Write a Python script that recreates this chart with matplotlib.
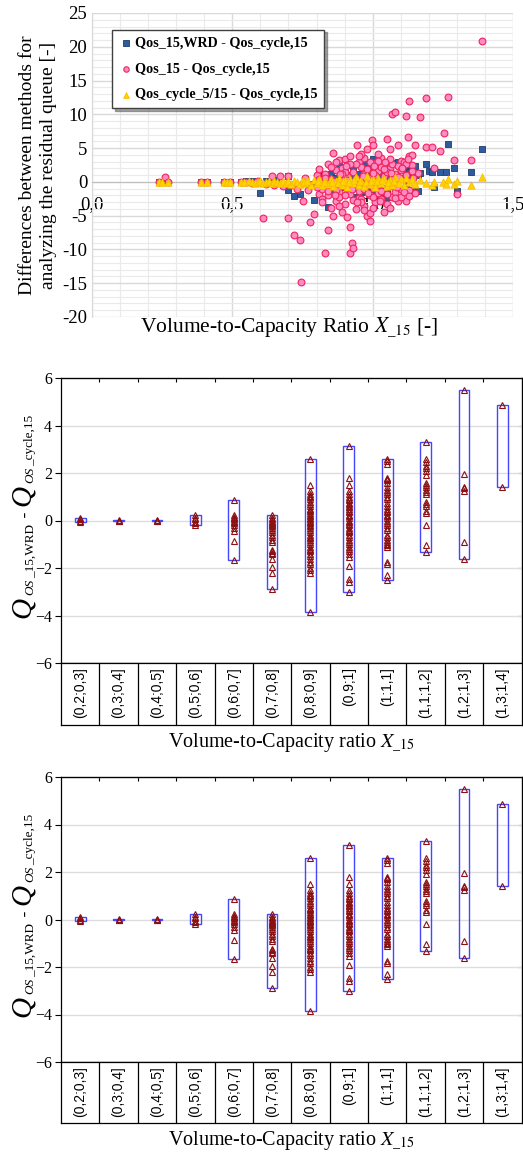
import matplotlib
matplotlib.use("Agg")
import matplotlib.pyplot as plt
from matplotlib.ticker import MultipleLocator, FuncFormatter
import numpy as np

plt.rcParams['font.family'] = ['Liberation Serif', 'DejaVu Serif']
plt.rcParams['mathtext.fontset'] = 'stix'

# ---- top chart data: (V/C ratio, difference) ----
wrd_x = [0.24, 0.26, 0.39, 0.41, 0.47, 0.49, 0.53, 0.55, 0.57, 0.60, 0.62, 0.64, 0.66, 0.68, 0.70,
         0.70, 0.72, 0.74, 0.76, 0.78, 0.79, 0.81, 0.82, 0.84, 0.85, 0.86, 0.87, 0.88, 0.89, 0.90,
         0.91, 0.92, 0.93, 0.94, 0.95, 0.96, 0.97, 0.98, 0.99, 1.00, 1.01, 1.02, 1.03, 1.04, 1.05,
         1.06, 1.07, 1.08, 1.09, 1.10, 1.11, 1.12, 1.13, 1.14, 1.15, 1.16, 1.17, 1.19, 1.20, 1.21,
         1.22, 1.24, 1.26, 1.27, 1.29, 1.30, 1.35, 1.39,
         0.88, 0.90, 0.92, 0.94, 0.96, 0.98, 1.00, 1.02, 1.04, 1.06, 1.08, 1.10, 1.12, 1.14, 1.16,
         0.89, 0.93, 0.97, 1.01, 1.05, 1.09, 1.13]
wrd_y = [0.0, 0.0, 0.0, 0.0, 0.0, 0.0, 0.0, 0.2, 0.1, -1.6, 0.1, -0.2, 0.3, -0.4, 0.9,
         -1.2, -2.1, -1.8, 0.5, -0.3, -2.7, 1.6, 0.8, -3.75, 1.2, -1.0, 0.6, 2.4, -0.8, 1.3,
         -1.5, 0.4, 2.0, -2.3, 1.1, -0.6, 0.7, -1.3, 2.1, 3.4, -2.0, 0.9, -1.6, 1.5, -2.2,
         0.5, 1.2, 2.8, -0.9, 1.8, 0.6, -0.4, 2.2, -1.2, 2.4, 1.0, 1.3, 2.6, 1.6, 1.5,
         -0.8, 1.4, 1.5, 5.6, 2.0, -1.4, 1.5, 4.9,
         0.3, -0.4, 1.0, 0.6, -1.5, 0.8, -0.5, 1.9, -0.9, 2.6, -0.3, 2.5, 1.6, 0.9, -1.3,
         1.9, -0.9, 2.6, 1.1, -1.2, 2.9, 1.5]

q15_x = [0.24, 0.26, 0.27, 0.39, 0.41, 0.47, 0.49, 0.53, 0.55, 0.57, 0.59, 0.61, 0.62, 0.64, 0.65,
         0.67, 0.68, 0.70, 0.70, 0.71, 0.72, 0.73, 0.74, 0.745, 0.75, 0.76, 0.77, 0.776, 0.79, 0.80,
         0.81, 0.82, 0.83, 0.84, 0.84, 0.85, 0.86, 0.86, 0.87, 0.87, 0.88, 0.88, 0.89, 0.89, 0.90,
         0.90, 0.91, 0.91, 0.918, 0.92, 0.925, 0.93, 0.93, 0.94, 0.945, 0.95, 0.95, 0.96, 0.96, 0.97,
         0.97, 0.98, 0.98, 0.99, 0.99, 0.996, 1.00, 1.00, 1.01, 1.01, 1.02, 1.02, 1.03, 1.03, 1.04,
         1.04, 1.05, 1.05, 1.06, 1.06, 1.07, 1.07, 1.08, 1.08, 1.09, 1.09, 1.10, 1.10, 1.11, 1.12,
         1.12, 1.126, 1.13, 1.13, 1.14, 1.15, 1.15, 1.16, 1.17, 1.19, 1.19, 1.21, 1.22, 1.24, 1.255,
         1.27, 1.29, 1.30, 1.35, 1.39,
         0.85, 0.86, 0.87, 0.88, 0.89, 0.90, 0.91, 0.92, 0.93, 0.94, 0.95, 0.96, 0.97, 0.98, 0.99,
         1.00, 1.01, 1.02, 1.03, 1.04, 1.05, 1.06, 1.07, 1.08, 1.09, 1.10, 1.11, 1.12, 1.13, 1.14,
         0.83, 0.82, 0.81, 0.84, 0.90, 0.95, 1.00, 0.92, 0.97, 1.02, 0.88, 1.06, 0.96, 0.99,
         0.80, 0.81, 0.82, 0.83, 0.84, 0.85, 0.86, 0.87, 0.88, 0.89, 0.90, 0.91, 0.92, 0.93, 0.94,
         0.95, 0.96, 0.97, 0.98, 0.99, 1.00, 1.01, 1.02, 1.03, 1.04, 1.05, 1.06, 1.07, 1.08, 1.09,
         1.10, 1.11, 1.12, 1.13, 1.14, 0.865, 0.885, 0.905, 0.925, 0.945, 0.965, 0.985, 1.005, 1.025,
         1.045, 1.065, 1.085, 1.105, 1.125, 1.145]
q15_y = [0.0, 0.7, 0.0, 0.0, 0.0, 0.0, 0.0, 0.0, 0.0, -0.2, 0.2, -5.3, -0.3, 0.8, -0.4,
         0.9, -0.6, 0.8, -5.3, -0.5, -7.8, -1.0, -8.6, -14.8, -2.8, 0.6, -1.2, -5.9, -4.8, 1.0,
         -1.8, -2.5, -10.5, -7.1, 2.7, -3.8, 4.3, -5.0, 1.8, -2.9, 3.3, -1.5, -4.5, 0.9, 3.4,
         -3.2, -5.2, 2.5, -6.7, -10.5, -9.1, -9.8, 1.5, -4.0, 5.4, -2.4, 3.0, -1.2, 2.2, -3.5,
         1.1, 4.8, -5.1, -5.8, -2.0, 6.2, 5.5, -0.9, 2.8, -3.0, 1.6, -1.7, 3.6, -2.6, -4.5,
         0.9, 6.3, -3.3, 4.8, 2.0, 10.1, -2.2, 10.4, 1.2, 5.4, -2.8, 3.1, -1.0, 0.4, 9.8,
         -2.9, 6.7, 12.0, 3.8, 2.5, 5.4, -1.6, 1.3, 9.6, 12.4, 5.2, 5.1, 2.0, 4.6, 7.3,
         12.6, 3.3, -1.8, 3.2, 20.9,
         0.5, -0.7, -1.2, 0.2, 2.0, -0.5, 0.8, -1.8, -0.3, 2.6, 0.3, -2.6, 3.5, 1.9, 0.6,
         -2.3, 1.0, -0.4, 2.2, -1.1, 1.5, -0.6, 2.6, -1.5, 0.7, -2.3, 2.9, 1.0, -1.2, 4.0,
         1.2, -1.0, 0.4, -2.0, 1.4, -1.4, 1.3, 3.9, -4.1, 4.2, -2.3, -3.8, 4.1, -4.6,
         -0.8, 1.9, -3.0, 0.6, -1.3, 2.2, 0.1, 3.0, -3.6, 1.2, -2.0, 0.3, 2.7, -2.7, 0.6,
         3.8, -3.0, -1.0, 0.5, 2.9, -3.8, 0.2, 3.1, -1.4, 1.9, -1.8, 3.4, 0.8, -2.4, 2.3,
         1.7, -1.5, 2.6, -2.1, 1.6, -1.9, 1.1, 2.3, -1.1, -3.0, 0.9, -1.6, 2.4, -2.9,
         3.0, 1.3, -0.7, 2.0, 3.4, 0.6]

cyc_x = [0.24, 0.25, 0.27, 0.39, 0.41, 0.47, 0.48, 0.49, 0.53, 0.54, 0.56, 0.57, 0.58, 0.59, 0.60,
         0.61, 0.62, 0.63, 0.64, 0.65, 0.66, 0.67, 0.68, 0.69, 0.70, 0.71, 0.72, 0.73, 0.74, 0.75,
         0.76, 0.77, 0.78, 0.79, 0.80, 0.81, 0.82, 0.83, 0.84, 0.85, 0.86, 0.87, 0.88, 0.89, 0.90,
         0.91, 0.92, 0.93, 0.94, 0.95, 0.96, 0.97, 0.98, 0.99, 1.00, 1.01, 1.02, 1.03, 1.04, 1.05,
         1.06, 1.07, 1.08, 1.09, 1.10, 1.11, 1.12, 1.13, 1.14, 1.15, 1.17, 1.19, 1.21, 1.22, 1.25,
         1.26, 1.27, 1.29, 1.30, 1.35, 1.39,
         0.855, 0.875, 0.895, 0.915, 0.935, 0.955, 0.975, 0.995, 1.015, 1.035, 1.055, 1.075, 1.095,
         0.755, 0.765, 0.805, 0.825]
cyc_y = [0.0, 0.0, 0.0, 0.0, 0.0, 0.0, 0.0, 0.0, 0.0, 0.0, 0.1, 0.0, -0.1, 0.0, 0.1,
         -0.1, 0.0, 0.2, -0.2, 0.1, 0.0, -0.2, 0.2, -0.1, 0.1, -0.3, 0.2, 0.0, -0.3, 0.3,
         -0.2, 0.1, -0.4, 0.3, -0.1, 0.4, -0.5, 0.2, -0.3, 0.5, -0.6, 0.1, 0.6, -0.4, 0.3,
         -0.7, 0.5, -0.2, 0.7, -0.5, 0.2, -0.6, 0.8, -0.3, 0.4, -0.7, 0.6, -0.2, 0.5, -0.6,
         0.3, -0.4, 0.7, -0.2, 0.4, -0.5, 0.6, 0.0, 0.5, -0.3, 0.3, -0.2, -0.4, 0.0, 0.0,
         -0.3, 0.4, -0.3, 0.1, -0.5, 0.7,
         0.0, -0.2, 0.2, 0.0, 0.3, 0.1, 0.0, 0.2, 0.1, 0.3, 0.0, 0.2, -0.1,
         0.0, 0.1, 0.2, 0.0]

legend_labels = ["Qos_15,WRD - Qos_cycle,15", "Qos_15 - Qos_cycle,15", "Qos_cycle_5/15 - Qos_cycle,15"]

# ---- box panel data (difference per V/C class) ----
classes = ["(0,2;0,3]", "(0,3;0,4]", "(0,4;0,5]", "(0,5;0,6]", "(0,6;0,7]", "(0,7;0,8]",
           "(0,8;0,9]", "(0,9;1]", "(1;1,1]", "(1,1;1,2]", "(1,2;1,3]", "(1,3;1,4]"]
class_values = [
    [0.1, 0.05, 0.0, -0.05],
    [0.03, 0.0, -0.03],
    [0.02, 0.0, -0.03],
    [0.22, 0.12, 0.05, -0.05, -0.12, -0.2],
    [0.85, 0.22, 0.15, 0.1, 0.05, 0.0, -0.05, -0.1, -0.2, -0.3, -0.45, -0.85, -1.68],
    [0.22, 0.12, 0.05, 0.0, -0.05, -0.1, -0.15, -0.2, -0.25, -0.3, -0.4, -0.5, -0.6, -0.7, -0.8,
     -0.9, -1.25, -1.3, -1.35, -1.4, -1.6, -1.95, -2.2, -2.88],
    [2.6, 1.5, 1.25, 1.1, 1.05, 1.0, 0.9, 0.8, 0.7, 0.6, 0.5, 0.45, 0.4, 0.3, 0.25, 0.2, 0.1,
     0.05, 0.0, -0.05, -0.1, -0.2, -0.25, -0.3, -0.4, -0.5, -0.6, -0.7, -0.75, -0.8, -0.9, -1.0,
     -1.1, -1.2, -1.25, -1.3, -1.4, -1.5, -1.6, -1.75, -1.85, -2.0, -2.1, -2.2, -3.85],
    [3.15, 1.8, 1.5, 1.25, 1.1, 1.0, 0.9, 0.85, 0.75, 0.7, 0.6, 0.55, 0.5, 0.4, 0.35, 0.25, 0.2,
     0.1, 0.0, -0.05, -0.15, -0.2, -0.3, -0.4, -0.45, -0.5, -0.6, -0.7, -0.8, -0.9, -1.0, -1.1,
     -1.2, -1.3, -1.4, -1.55, -1.9, -2.45, -2.6, -3.02],
    [2.6, 2.5, 2.4, 1.8, 1.75, 1.7, 1.6, 1.4, 1.3, 1.2, 1.1, 1.0, 0.9, 0.75, 0.6, 0.5, 0.4, 0.35,
     0.25, 0.2, 0.1, 0.0, -0.1, -0.2, -0.3, -0.4, -0.6, -0.7, -0.8, -0.9, -1.0, -1.05, -1.1,
     -1.75, -1.85, -2.3, -2.5],
    [3.3, 2.6, 2.45, 2.3, 2.2, 2.1, 1.9, 1.6, 1.5, 1.4, 1.3, 1.2, 1.1, 0.8, 0.7, 0.6, 0.4, 0.3,
     -0.2, -1.05, -1.33],
    [5.5, 1.95, 1.42, 1.35, 1.25, -0.9, -1.6],
    [4.85, 1.42],
]

W, H = 523, 1156
fig = plt.figure(figsize=(W / 100, H / 100), dpi=100)
renderer = fig.canvas.get_renderer()


def rect(left, top, right, bottom):
    return [left / W, 1 - bottom / H, (right - left) / W, (bottom - top) / H]


# ================= top scatter =================
ax = fig.add_axes(rect(92, 13, 513, 317))
ax.set_xlim(0, 1.5)
ax.set_ylim(-20, 25)
ax.xaxis.set_major_locator(MultipleLocator(0.5))
ax.xaxis.set_minor_locator(MultipleLocator(0.1))
ax.yaxis.set_major_locator(MultipleLocator(5))
ax.yaxis.set_minor_locator(MultipleLocator(1))
ax.grid(which='minor', color='#EAEAEA', lw=0.8)
ax.grid(which='major', color='#D9D9D9', lw=1.0)
ax.set_axisbelow(True)
for s in ['top', 'right']:
    ax.spines[s].set_visible(False)
ax.spines['bottom'].set_position(('data', 0))
ax.spines['bottom'].set_color('#BFBFBF')
ax.spines['left'].set_color('#D9D9D9')
ax.tick_params(which='both', length=0, labelsize=13.5)
ax.tick_params(axis='x', pad=10)
ax.xaxis.set_major_formatter(FuncFormatter(lambda v, p: f"{v:.1f}".replace('.', ',')))
ax.yaxis.set_major_formatter(FuncFormatter(lambda v, p: f"{v:.0f}"))

ax.scatter(wrd_x, wrd_y, marker='s', s=22, color='#2E5C9E', edgecolor='#1F3D6B', lw=0.6,
           label=legend_labels[0], zorder=3)
ax.scatter(q15_x, q15_y, marker='o', s=24, color='#FF8AC4', edgecolor='#F0245A', lw=0.8,
           label=legend_labels[1], zorder=4)
ax.scatter(cyc_x, cyc_y, marker='^', s=28, color='#FFD200', edgecolor='#F5B800', lw=0.5,
           label=legend_labels[2], zorder=5)

leg = ax.legend(loc='upper left', bbox_to_anchor=(0.048, 0.945), prop={'weight': 'bold', 'size': 10.2},
                frameon=True, shadow=True, fancybox=False, edgecolor='#404040', handletextpad=0.1,
                handlelength=1.0, markerscale=0.8, borderpad=0.5, labelspacing=0.9,
                borderaxespad=0.0)
leg.get_frame().set_linewidth(1.0)

ax.set_ylabel("Differences between methods for\nanalyzing the residual queue [-]", fontsize=14,
              labelpad=4, linespacing=1.25)
fig.text(289 / W, 1 - 327 / H, r"Volume-to-Capacity Ratio $X_{\_15}$ [-]", fontsize=15.5,
         ha='center', va='center')


# rotated y label built piece by piece so the Q can be larger than its subscripts
def q_label(x_base, y_start):
    pieces = [("Q", 21, 'italic', 0, 2), ("OS", 9.5, 'italic', 3.5, 1), ("_15,WRD", 9.5, 'normal', 3.5, 2),
              (" - ", 13, 'normal', 0, 1),
              ("Q", 21, 'italic', 0, 2), ("OS", 9.5, 'italic', 3.5, 1), ("_cycle,15", 9.5, 'normal', 3.5, 0)]
    y = y_start
    for s, size, style, shift, gap in pieces:
        t = fig.text((x_base + shift) / W, 1 - y / H, s, rotation=90, rotation_mode='anchor',
                     ha='left', va='baseline', fontsize=size, fontstyle=style)
        y -= t.get_window_extent(renderer).height + gap


# ================= box panels =================
def box_panel(top, bottom, table_bottom):
    bx = fig.add_axes(rect(61, top, 521.5, bottom))
    n = len(classes)
    pos = np.arange(n)
    bx.set_xlim(-0.5, n - 0.5)
    bx.set_ylim(-6, 6)
    bx.set_yticks([-6, -4, -2, 0, 2, 4, 6])
    bx.yaxis.grid(True, color='#DDDDDD', lw=1.0)
    bx.set_axisbelow(True)
    bx.set_xticks([])
    bx.tick_params(axis='y', direction='out', length=4, labelsize=11.5, width=0.8, pad=2.5)
    for s in bx.spines.values():
        s.set_linewidth(0.9)
    top_ax = bx.secondary_xaxis('top')
    top_ax.set_xticks(pos[:-1] + 0.5)
    top_ax.tick_params(direction='in', length=3, labeltop=False)
    right_ax = bx.secondary_yaxis('right')
    right_ax.set_yticks([-4, -2, 2, 4])
    right_ax.tick_params(direction='in', length=3, labelright=False)

    for i, vals in enumerate(class_values):
        lo, hi = min(vals), max(vals)
        bx.bar(pos[i], hi - lo, bottom=lo, width=0.28, fill=False, edgecolor='#4646FF', lw=1.0,
               zorder=2)
        bx.plot([pos[i]] * len(vals), vals, linestyle='none', marker='^', ms=4.2, mfc='none',
                mec='#8B1010', mew=0.8, zorder=3)

    q_label(30, top + 240)

    tx = fig.add_axes(rect(61, bottom, 521.5, table_bottom))
    tx.set_xlim(-0.5, n - 0.5)
    tx.set_ylim(0, 1)
    tx.set_xticks([])
    tx.set_yticks([])
    for s in tx.spines.values():
        s.set_linewidth(0.9)
    for b in pos[:-1] + 0.5:
        tx.axvline(b, color='black', lw=0.9)
    for i, c in enumerate(classes):
        tx.text(pos[i], 0.93, c, rotation=90, ha='center', va='top', fontsize=10,
                family=['Liberation Sans', 'DejaVu Sans'])
    fig.text(291 / W, 1 - (table_bottom + 18) / H, r"Volume-to-Capacity ratio $X_{\_15}$",
             fontsize=14.5, ha='center', va='center')


box_panel(378, 663, 725)
box_panel(777, 1062, 1123)

fig.savefig("out.png", dpi=100)
